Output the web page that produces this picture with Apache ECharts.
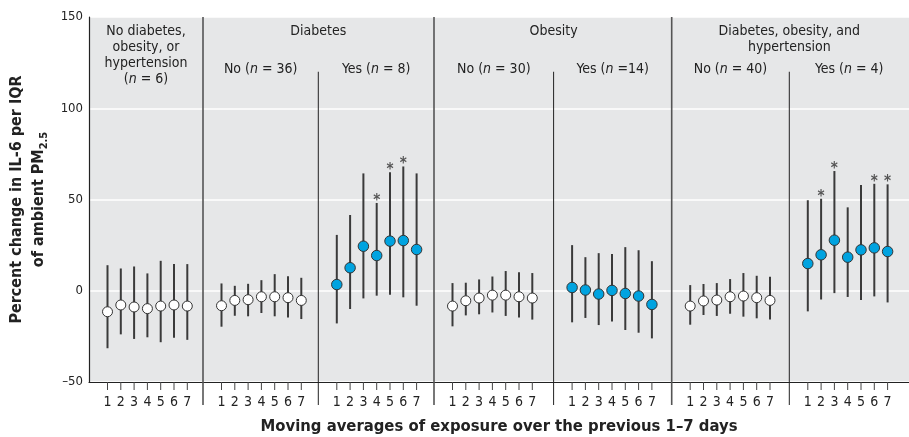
<!DOCTYPE html>
<html><head><meta charset="utf-8">
<script src="https://cdn.jsdelivr.net/npm/echarts@6/dist/echarts.min.js"></script>
<style>html,body{margin:0;padding:0;background:#fff}#c{width:909px;height:437px}</style>
</head><body><div id="c"></div>
<script>
// ---------- DATA ----------
const lagLabels = ['1','2','3','4','5','6','7'];
const yTicks = [-50, 0, 50, 100, 150];

// No diabetes, obesity, or hypertension (n = 6)
const est_none = [-11.5, -7.8, -8.9, -9.8, -8.4, -7.8, -8.4];
const lo_none  = [-31.5, -23.9, -26.4, -25.5, -28.2, -25.8, -26.9];
const hi_none  = [14.0, 12.2, 13.3, 9.5, 16.4, 14.6, 14.6];
// Diabetes: No (n = 36)
const est_diabNo = [-8.2, -5.3, -4.9, -3.3, -3.3, -3.8, -5.3];
const lo_diabNo  = [-19.7, -13.7, -14.0, -12.2, -14.0, -14.6, -15.5];
const hi_diabNo  = [4.0, 2.7, 3.8, 5.8, 9.1, 8.0, 7.1];
// Diabetes: Yes (n = 8)
const est_diabYes = [3.4, 12.6, 24.4, 19.3, 27.2, 27.5, 22.6];
const lo_diabYes  = [-17.9, -10.0, -4.2, -2.7, -2.2, -3.6, -8.2];
const hi_diabYes  = [30.6, 41.5, 64.3, 48.1, 64.9, 68.1, 64.3];
const sig_diabYes = [0, 0, 0, 1, 1, 1, 0];
// Obesity: No (n = 30)
const est_obNo = [-8.4, -5.5, -4.0, -2.4, -2.4, -3.3, -4.0];
const lo_obNo  = [-19.5, -13.5, -12.9, -11.9, -13.8, -14.6, -15.8];
const hi_obNo  = [4.2, 4.4, 6.2, 7.8, 10.8, 10.2, 9.7];
// Obesity: Yes (n = 14)
const est_obYes = [1.8, 0.4, -1.8, 0.2, -1.5, -2.9, -7.5];
const lo_obYes  = [-17.3, -14.9, -18.8, -16.8, -21.5, -23.0, -26.1];
const hi_obYes  = [25.0, 18.4, 20.6, 20.2, 23.9, 22.2, 16.2];
// Diabetes, obesity, and hypertension: No (n = 40)
const est_allNo = [-8.4, -5.6, -5.1, -3.3, -2.9, -3.8, -5.3];
const lo_allNo  = [-18.6, -13.3, -13.8, -12.6, -14.2, -15.1, -15.8];
const hi_allNo  = [3.1, 3.7, 4.2, 6.4, 9.7, 8.2, 7.7];
// Diabetes, obesity, and hypertension: Yes (n = 4)
const est_allYes = [14.9, 19.7, 27.7, 18.4, 22.4, 23.5, 21.5];
const lo_allYes  = [-11.3, -4.8, -1.3, -3.4, -5.1, -3.1, -6.4];
const hi_allYes  = [49.6, 50.4, 65.6, 45.7, 57.9, 58.6, 58.3];
const sig_allYes = [0, 1, 1, 0, 0, 1, 1];

const topHeaders = ['No diabetes,\nobesity, or\nhypertension\n({i|n} = 6)', 'Diabetes', 'Obesity', 'Diabetes, obesity, and\nhypertension'];
const subHeaders = ['No ({i|n} = 36)', 'Yes ({i|n} = 8)', 'No ({i|n} = 30)', 'Yes ({i|n} =14)', 'No ({i|n} = 40)', 'Yes ({i|n} = 4)'];

// ---------- LAYOUT ----------
const FONT = "'DejaVu Sans Condensed','Liberation Sans Narrow','Liberation Sans',sans-serif";
const Y_MIN = -50, Y_MAX = 150, SUB_DIV_TOP = 120;
const groupStart = [0, 114, 229.3, 345, 464.6, 582.7, 700.3];
const X_MAX = 820, LAG0 = 18.5, LAGSTEP = 13.3;
const xOf = (g, k) => groupStart[g] + LAG0 + k * LAGSTEP;
const groupEnd = g => (g + 1 < groupStart.length ? groupStart[g + 1] : X_MAX);

const est = [est_none, est_diabNo, est_diabYes, est_obNo, est_obYes, est_allNo, est_allYes];
const lo  = [lo_none, lo_diabNo, lo_diabYes, lo_obNo, lo_obYes, lo_allNo, lo_allYes];
const hi  = [hi_none, hi_diabNo, hi_diabYes, hi_obNo, hi_obYes, hi_allNo, hi_allYes];
const sig = [null, null, sig_diabYes, null, null, null, sig_allYes];
const filled = [false, false, true, false, true, false, true];

const barData = [], openPts = [], fillPts = [], starData = [], tickData = [];
for (let g = 0; g < est.length; g++) {
  for (let k = 0; k < 7; k++) {
    const x = xOf(g, k);
    barData.push([x, lo[g][k], hi[g][k]]);
    (filled[g] ? fillPts : openPts).push([x, est[g][k]]);
    if (sig[g] && sig[g][k]) starData.push([x, hi[g][k]]);
    tickData.push([x, k]);
  }
}
const dividerData = groupStart.slice(1).map((x, i) => [x, i % 2 === 0 ? 1 : 0]);
const topHeaderData = [
  [(groupStart[0] + groupStart[1]) / 2, 0],
  [groupStart[2], 1],
  [groupStart[4], 2],
  [groupStart[6], 3]
];
const subHeaderData = [1,2,3,4,5,6].map((g, i) => [(groupStart[g] + groupEnd(g)) / 2, i]);

const richI = { i: { fontStyle: 'italic', fontSize: 14, fontFamily: FONT, fill: '#222', color: '#222' } };

const chart = echarts.init(document.getElementById('c'));
chart.setOption({
  animation: false,
  backgroundColor: '#fff',
  grid: { left: 89, right: 0, top: 17, bottom: 55, show: true, backgroundColor: '#e6e7e8', borderWidth: 0,
          containLabel: false, outerBoundsMode: 'none' },
  xAxis: {
    type: 'value', min: 0, max: X_MAX,
    axisLine: { show: true, onZero: false, lineStyle: { color: '#222', width: 1.2 } },
    axisTick: { show: false }, axisLabel: { show: false }, splitLine: { show: false },
    name: 'Moving averages of exposure over the previous 1\u20137 days',
    nameLocation: 'middle', nameGap: 36,
    nameTextStyle: { fontFamily: FONT, fontWeight: 'bold', fontSize: 16.5, color: '#222' }
  },
  yAxis: {
    type: 'value', min: Y_MIN, max: Y_MAX, interval: 50,
    axisLine: { show: true, onZero: false, lineStyle: { color: '#222', width: 1.2 } },
    axisTick: { show: false },
    splitLine: { show: true, lineStyle: { color: '#fff', width: 1.5 } },
    axisLabel: {
      fontFamily: FONT, fontSize: 13, color: '#222', margin: 6,
      formatter: v => (yTicks.indexOf(v) < 0 ? '' : (v < 0 ? '\u2013' + Math.abs(v) : String(v)))
    },
    name: '{a|Percent change in IL-6 per IQR}\n{a|of ambient PM}{s|2.5}',
    nameLocation: 'middle', nameRotate: 90, nameGap: 35,
    nameTextStyle: {
      fontFamily: FONT, fontWeight: 'bold', fontSize: 16, color: '#222', lineHeight: 22,
      rich: {
        a: { fontFamily: FONT, fontWeight: 'bold', fontSize: 16, color: '#222', lineHeight: 22 },
        s: { fontFamily: FONT, fontWeight: 'bold', fontSize: 11, color: '#222', lineHeight: 12, verticalAlign: 'bottom' }
      }
    }
  },
  series: [
    {
      type: 'custom', z: 1, clip: false, silent: true, data: dividerData,
      renderItem: (params, api) => {
        const x = api.value(0), full = api.value(1);
        const top = api.coord([x, full ? Y_MAX : SUB_DIV_TOP]);
        const bot = api.coord([x, Y_MIN]);
        return { type: 'line', shape: { x1: top[0], y1: top[1], x2: bot[0], y2: bot[1] + 23 },
          style: { stroke: full ? '#555' : '#222', lineWidth: full ? 1.6 : 1 } };
      }
    },
    {
      type: 'custom', z: 2, clip: false, silent: true, data: tickData,
      renderItem: (params, api) => {
        const x = api.value(0), k = api.value(1);
        const p = api.coord([x, Y_MIN]);
        return { type: 'group', children: [
          { type: 'line', shape: { x1: p[0], y1: p[1], x2: p[0], y2: p[1] + 8 }, style: { stroke: '#444', lineWidth: 1 } },
          { type: 'text', x: p[0], y: p[1] + 20, style: { text: lagLabels[k], fontFamily: FONT, fontSize: 14, fill: '#222', align: 'center', verticalAlign: 'middle' } }
        ] };
      }
    },
    {
      type: 'custom', z: 3, silent: true, data: barData,
      renderItem: (params, api) => {
        const a = api.coord([api.value(0), api.value(1)]);
        const b = api.coord([api.value(0), api.value(2)]);
        return { type: 'line', shape: { x1: a[0], y1: a[1], x2: b[0], y2: b[1] }, style: { stroke: '#3a3a3a', lineWidth: 2 } };
      }
    },
    {
      type: 'scatter', z: 4, data: openPts, symbol: 'circle', symbolSize: 10,
      itemStyle: { color: '#ffffff', borderColor: '#333', borderWidth: 1, opacity: 1 }
    },
    {
      type: 'scatter', z: 4, data: fillPts, symbol: 'circle', symbolSize: 10.5,
      itemStyle: { color: '#00a3e0', borderColor: '#333', borderWidth: 1, opacity: 1 }
    },
    {
      type: 'custom', z: 4, silent: true, clip: false, data: starData,
      renderItem: (params, api) => {
        const p = api.coord([api.value(0), api.value(1)]);
        return { type: 'text', x: p[0], y: p[1] - 2, style: { text: '*', fontFamily: FONT, fontWeight: 'bold', fontSize: 15, fill: '#555', align: 'center', verticalAlign: 'middle' } };
      }
    },
    {
      type: 'custom', z: 5, silent: true, clip: false, data: topHeaderData,
      renderItem: (params, api) => {
        const p = api.coord([api.value(0), Y_MAX]);
        return { type: 'text', x: p[0], y: p[1] + 7, style: { text: topHeaders[api.value(1)], rich: richI, fontFamily: FONT, fontSize: 14, lineHeight: 15.7, fill: '#222', align: 'center', verticalAlign: 'top' } };
      }
    },
    {
      type: 'custom', z: 5, silent: true, clip: false, data: subHeaderData,
      renderItem: (params, api) => {
        const p = api.coord([api.value(0), Y_MAX]);
        return { type: 'text', x: p[0], y: p[1] + 45, style: { text: subHeaders[api.value(1)], rich: richI, fontFamily: FONT, fontSize: 14, lineHeight: 15.7, fill: '#222', align: 'center', verticalAlign: 'top' } };
      }
    }
  ]
});
</script></body></html>
